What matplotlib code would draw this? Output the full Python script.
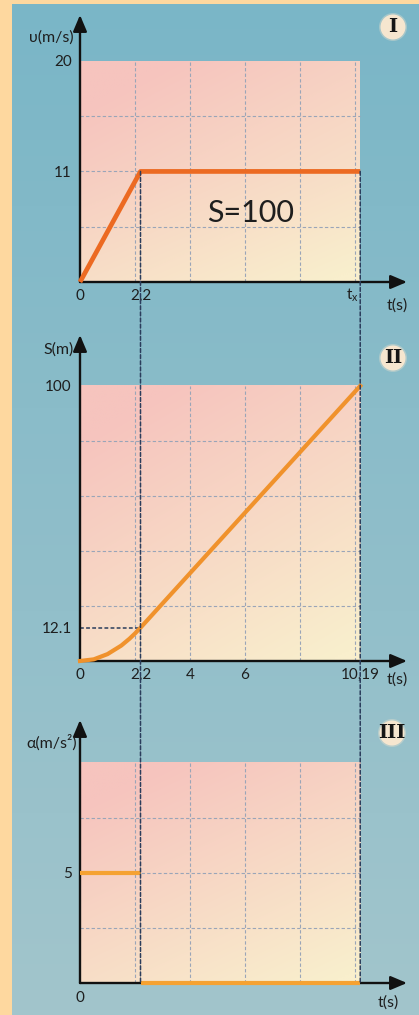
import numpy as np
import matplotlib
matplotlib.use("Agg")
import matplotlib.pyplot as plt
from matplotlib.patches import ConnectionPatch, Circle
from matplotlib.colors import to_rgb

plt.rcParams["font.family"] = ["Lato", "DejaVu Sans"]

# ---- data -------------------------------------------------------------
t_vel = [0.0, 2.2, 10.19]
u_vel = [0.0, 11.0, 11.0]

t_pos = [0.0, 0.5, 1.0, 1.5, 1.8, 2.0, 2.2, 4.0, 6.0, 8.0, 10.19]
s_pos = [0.0, 0.6, 2.5, 5.6, 8.1, 10.0, 12.1, 31.9, 53.9, 75.9, 100.0]

t_acc_on = [0.0, 2.2]
a_acc_on = [5.0, 5.0]
t_acc_off = [2.2, 10.19]
a_acc_off = [0.0, 0.0]

t_switch = 2.2
t_end = 10.19
u_top = 20
s_top = 100
a_top = 10

xticks_1 = [0.0, 2.2]
xlabels_1 = ["0", "2,2"]
yticks_1 = [11, 20]
xticks_2 = [0.0, 2.2, 4.0, 6.0, 10.19]
xlabels_2 = ["0", "2,2", "4", "6", "10,19"]
yticks_2 = [12.1, 100]
ylabels_2 = ["12.1", "100"]
yticks_3 = [5]

# ---- figure ------------------------------------------------------------
W, H = 419, 1015
fig = plt.figure(figsize=(W / 100, H / 100), dpi=100, facecolor="#fed89f")


def rect(x0, ytop, x1, ybot):
    return [x0 / W, 1 - ybot / H, (x1 - x0) / W, (ybot - ytop) / H]


def mix(c1, c2, f):
    c1, c2 = np.array(to_rgb(c1)), np.array(to_rgb(c2))
    f = np.asarray(f)[..., None]
    return c1 * (1 - f) + c2 * f


# blue page background
bg = fig.add_axes(rect(12, 4, W, H), zorder=0)
yy = np.linspace(0, 1, 200)[:, None] * np.ones((1, 50))
bg.imshow(mix("#7ab6c7", "#a2c5cc", yy), aspect="auto", extent=[0, 1, 0, 1])
bg.axis("off")

ink = "#1e1e1e"
dash_col = "#2b3d5c"
grid_col = "#9aa5b8"
TICK_FS = 11
LABEL_FS = 11.5


def pink(ax, ymax):
    gx, gy = np.meshgrid(np.linspace(0, 1, 80), np.linspace(0, 1, 160))
    f = np.clip(0.45 * gx + 0.75 * gy - 0.15, 0, 1)
    img = mix("#f6c4be", "#f9efcd", f)
    # row 0 of the image sits at the top of the shaded block
    ax.imshow(img, extent=[0, t_end, 0, ymax], aspect="auto", zorder=0,
              interpolation="bilinear")


def axis_arrows(ax):
    kw = dict(arrowstyle="-|>,head_length=0.9,head_width=0.38", lw=1.7,
              color="#111111", shrinkA=0, shrinkB=0, mutation_scale=11)
    ax.annotate("", xy=(1, 0), xytext=(0, 0), xycoords="axes fraction",
                arrowprops=kw, zorder=3)
    ax.annotate("", xy=(0, 1), xytext=(0, 0), xycoords="axes fraction",
                arrowprops=kw, zorder=3)


def grid(ax, ys, ymax):
    ax.vlines([2, 4, 6, 8, 10], 0, ymax, colors=grid_col, lw=0.8,
              linestyles=(0, (3, 2)), zorder=1)
    ax.hlines(ys, 0, t_end, colors=grid_col, lw=0.8,
              linestyles=(0, (3, 2)), zorder=1)


def style(ax):
    ax.set_facecolor("none")
    for s in ax.spines.values():
        s.set_visible(False)
    ax.tick_params(length=0, labelsize=TICK_FS, colors=ink)


xmax = (407 - 80) / 27.5

# ---- panel I : velocity -------------------------------------------------
def fwd(v):
    v = np.asarray(v, float)
    return np.where(v <= 11, v * 2 / 11, 2 + (v - 11) * 2 / 9)


def inv(u):
    u = np.asarray(u, float)
    return np.where(u <= 2, u * 11 / 2, 11 + (u - 2) * 9 / 2)


ax1 = fig.add_axes(rect(80, 15, 407, 282), zorder=2)
style(ax1)
ax1.set_yscale("function", functions=(fwd, inv))
pink(ax1, u_top)
grid(ax1, [inv(1), 11, inv(3)], u_top)
ax1.plot(t_vel, u_vel, color="#ec6a22", lw=3.4, solid_capstyle="butt",
         zorder=4, clip_on=False)
ax1.set_xlim(0, xmax)
ax1.set_ylim(0, float(inv(4.83)))
ax1.set_xticks(xticks_1, xlabels_1)
ax1.set_yticks(yticks_1, [str(v) for v in yticks_1])
ax1.tick_params(axis="x", pad=5)
ax1.tick_params(axis="y", pad=6)
ax1.yaxis.set_minor_locator(matplotlib.ticker.NullLocator())
axis_arrows(ax1)
ax1.annotate(r"$\mathregular{t_x}$", xy=(t_end, 0), xytext=(-1, -3),
             textcoords="offset points", ha="right", va="top",
             fontsize=TICK_FS, color=ink)
ax1.text(6.2, 6.9, "S=100", ha="center", va="center", fontsize=22,
         color=ink, zorder=5)

# ---- panel II : position -------------------------------------------------
ax2 = fig.add_axes(rect(80, 335, 407, 661), zorder=2)
style(ax2)
pink(ax2, s_top)
grid(ax2, [20, 40, 60, 80], s_top)
ax2.plot(t_pos, s_pos, color="#f0922c", lw=3.0, zorder=4, clip_on=False)
ax2.hlines(12.1, 0, t_switch, colors=dash_col, lw=1.1,
           linestyles=(0, (2.5, 1.5)), zorder=3)
ax2.set_xlim(0, xmax)
ax2.set_ylim(0, 118.5)
ax2.set_xticks(xticks_2, xlabels_2)
ax2.set_yticks(yticks_2, ylabels_2)
ax2.tick_params(axis="x", pad=5)
ax2.tick_params(axis="y", pad=6)
axis_arrows(ax2)

# ---- panel III : acceleration -------------------------------------------
ax3 = fig.add_axes(rect(80, 720, 407, 983), zorder=2)
style(ax3)
pink(ax3, a_top)
grid(ax3, [2.5, 5, 7.5], a_top)
ax3.plot(t_acc_on, a_acc_on, color="#f5a232", lw=3.0, zorder=4,
         solid_capstyle="butt")
ax3.set_xlim(0, xmax)
ax3.set_ylim(0, 11.95)
ax3.set_xticks([0.0], ["0"])
ax3.set_yticks(yticks_3, [str(v) for v in yticks_3])
ax3.tick_params(axis="x", pad=6)
ax3.tick_params(axis="y", pad=6)
axis_arrows(ax3)
ax3.plot(t_acc_off, a_acc_off, color="#f5a232", lw=3.0, zorder=6,
         solid_capstyle="butt", clip_on=False)

# ---- dashed markers linking the three panels ------------------------------
for tx in (t_switch, t_end):
    con = ConnectionPatch(xyA=(tx, 11), coordsA=ax1.transData,
                          xyB=(tx, 0), coordsB=ax3.transData,
                          color=dash_col, lw=1.1, linestyle=(0, (2.5, 1.5)),
                          zorder=5)
    fig.add_artist(con)

# ---- axis titles -----------------------------------------------------------
fig.text(74 / W, 1 - 38 / H, "υ(m/s)", ha="right", va="center",
         fontsize=LABEL_FS, color=ink)
fig.text(74 / W, 1 - 350 / H, "S(m)", ha="right", va="center",
         fontsize=LABEL_FS, color=ink)
fig.text(77 / W, 1 - 743 / H, "α(m/s²)", ha="right", va="center",
         fontsize=LABEL_FS, color=ink)
fig.text(397 / W, 1 - 306 / H, "t(s)", ha="center", va="center",
         fontsize=LABEL_FS, color=ink)
fig.text(397 / W, 1 - 680 / H, "t(s)", ha="center", va="center",
         fontsize=LABEL_FS, color=ink)
fig.text(388 / W, 1 - 1003 / H, "t(s)", ha="center", va="center",
         fontsize=LABEL_FS, color=ink)

# ---- roman numeral badges --------------------------------------------------
for label, (cx, cy) in (("I", (393, 27)), ("II", (393, 358)),
                        ("III", (392, 733))):
    for r, a in ((14, 0.35), (12.5, 1.0)):
        fig.add_artist(Circle((cx / 100, (H - cy) / 100), r / 100,
                              transform=fig.dpi_scale_trans,
                              facecolor="#f6e6cf", edgecolor="none",
                              alpha=a, zorder=7))
    fig.text(cx / W, 1 - cy / H, label, ha="center", va="center",
             fontsize=14, fontweight="bold", family="DejaVu Serif",
             color="#151515", zorder=8)

fig.savefig("out.png", dpi=100, facecolor=fig.get_facecolor())
